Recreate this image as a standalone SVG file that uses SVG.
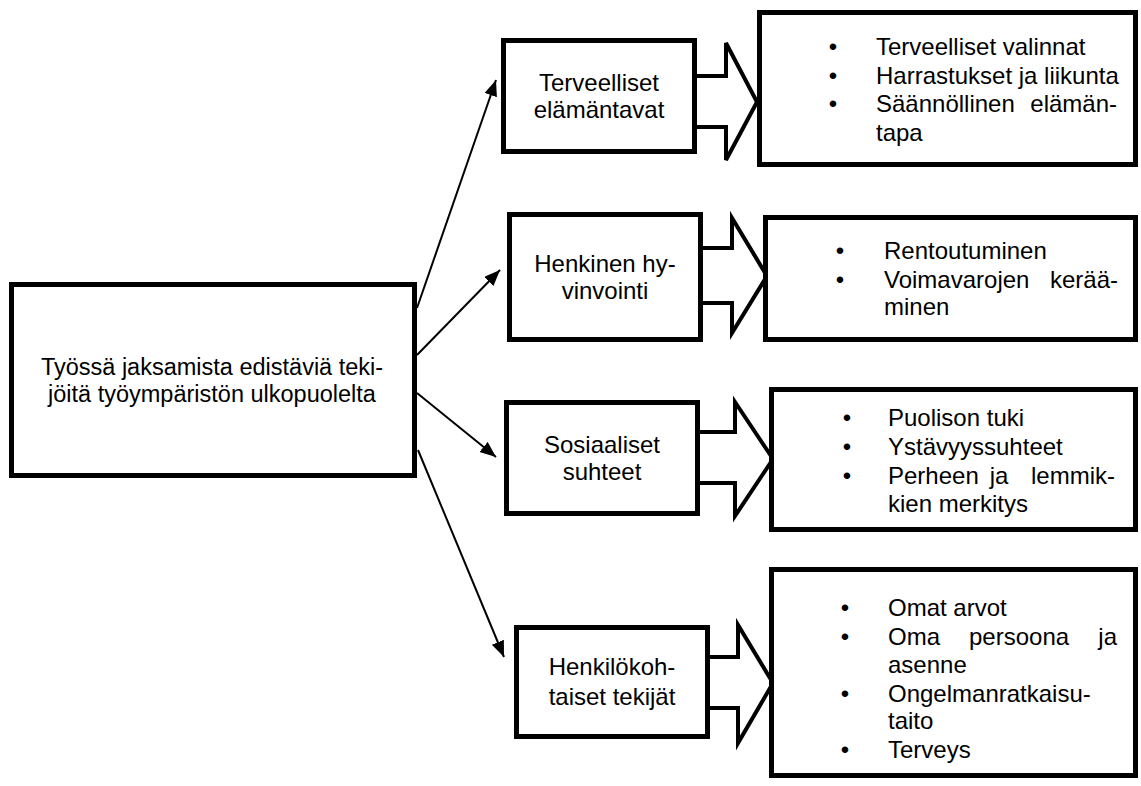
<svg xmlns="http://www.w3.org/2000/svg" width="1141" height="786" viewBox="0 0 1141 786">
<defs>
<style>
.box{fill:#fff;stroke:#000;stroke-width:5}
.blk{fill:#fff;stroke:#000;stroke-width:4;stroke-linejoin:miter}
.con{fill:none;stroke:#000;stroke-width:2}
text{font-family:"Liberation Sans",Arial,sans-serif;font-size:24px;fill:#000}
.c{text-anchor:middle}
.e{text-anchor:end}
.m{font-size:23.5px}
</style>
<marker id="ah" markerUnits="userSpaceOnUse" markerWidth="17" markerHeight="14" refX="16" refY="6.5" orient="auto">
<path d="M0,0 L16,6.5 L0,13 z" fill="#000"/>
</marker>
</defs>
<rect width="1141" height="786" fill="#fff"/>

<g id="connectors">
<line class="con" x1="417" y1="308" x2="496" y2="80" marker-end="url(#ah)"/>
<line class="con" x1="417" y1="355" x2="500" y2="270" marker-end="url(#ah)"/>
<line class="con" x1="417" y1="393" x2="496" y2="457" marker-end="url(#ah)"/>
<line class="con" x1="418" y1="450" x2="504" y2="657" marker-end="url(#ah)"/>
<path class="blk" d="M697,76 H726 V43 L757,102 L726,160 V127 H697"/>
<path class="blk" d="M703,248 H732 V218 L767,276 L732,333 V303 H703"/>
<path class="blk" d="M700,432 H735 V402 L773,459 L735,516 V483 H700"/>
<path class="blk" d="M710,657 H738 V625 L773,683 L738,743 V708 H710"/>
</g>

<g id="main">
<rect class="box" x="11.5" y="284.5" width="403" height="191"/>
<text class="c m" x="212" y="375">Työssä jaksamista edistäviä teki-</text>
<text class="c m" x="212" y="402">jöitä työympäristön ulkopuolelta</text>
</g>

<g id="n1">
<rect class="box" x="503.5" y="40.5" width="191" height="111"/>
<text class="c" x="599" y="91">Terveelliset</text>
<text class="c" x="599" y="118">elämäntavat</text>
</g>
<g id="n2">
<rect class="box" x="509.5" y="214.5" width="191" height="125"/>
<text class="c" x="605" y="272">Henkinen hy-</text>
<text class="c" x="605" y="299">vinvointi</text>
</g>
<g id="n3">
<rect class="box" x="506.5" y="402.5" width="191" height="111"/>
<text class="c" x="602" y="453">Sosiaaliset</text>
<text class="c" x="602" y="480">suhteet</text>
</g>
<g id="n4">
<rect class="box" x="516.5" y="627.5" width="191" height="109"/>
<text class="c" x="612" y="675">Henkilökoh-</text>
<text class="c" x="612" y="705">taiset tekijät</text>
</g>

<g id="r1">
<rect class="box" x="759.5" y="12.5" width="376" height="152"/>
<text class="c" x="833" y="55">•</text>
<text x="876" y="55">Terveelliset valinnat</text>
<text class="c" x="833" y="84">•</text>
<text x="876" y="84">Harrastukset ja liikunta</text>
<text class="c" x="833" y="112">•</text>
<text x="876" y="112">Säännöllinen</text>
<text class="e" x="1117" y="112">elämän-</text>
<text x="876" y="141">tapa</text>
</g>
<g id="r2">
<rect class="box" x="765.5" y="217.5" width="370" height="122"/>
<text class="c" x="840" y="259">•</text>
<text x="884" y="259">Rentoutuminen</text>
<text class="c" x="840" y="288">•</text>
<text x="884" y="288">Voimavarojen</text>
<text class="e" x="1118" y="288">kerää-</text>
<text x="884" y="315">minen</text>
</g>
<g id="r3">
<rect class="box" x="771.5" y="389.5" width="364" height="140"/>
<text class="c" x="847" y="426">•</text>
<text x="888" y="426">Puolison tuki</text>
<text class="c" x="847" y="455">•</text>
<text x="888" y="455">Ystävyyssuhteet</text>
<text class="c" x="847" y="484">•</text>
<text x="888" y="484">Perheen</text>
<text class="c" x="999" y="484">ja</text>
<text class="e" x="1115" y="484">lemmik-</text>
<text x="888" y="512">kien merkitys</text>
</g>
<g id="r4">
<rect class="box" x="771.5" y="569.5" width="364" height="206"/>
<text class="c" x="845" y="616">•</text>
<text x="888" y="616">Omat arvot</text>
<text class="c" x="845" y="645">•</text>
<text x="888" y="645">Oma</text>
<text x="969" y="645">persoona</text>
<text class="e" x="1117" y="645">ja</text>
<text x="888" y="673">asenne</text>
<text class="c" x="845" y="702">•</text>
<text x="888" y="702">Ongelmanratkaisu-</text>
<text x="888" y="729">taito</text>
<text class="c" x="845" y="758">•</text>
<text x="888" y="758">Terveys</text>
</g>
</svg>
